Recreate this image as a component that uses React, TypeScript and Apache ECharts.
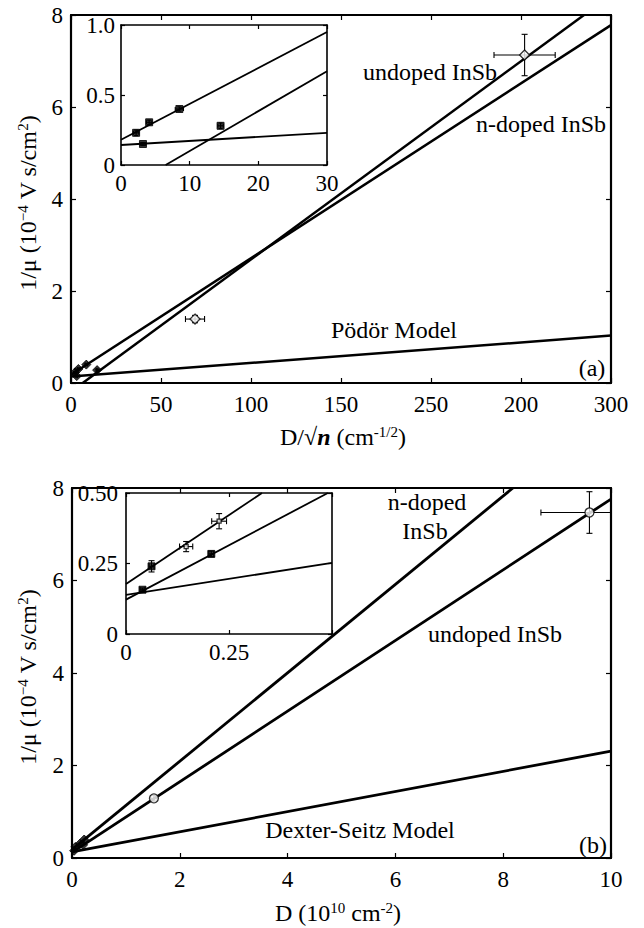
import React, { useEffect, useRef } from "react";
import * as echarts from "echarts";

const FONT = "'Liberation Serif', 'Times New Roman', Times, Tinos, serif";

// ---------- Panel (a) ----------
const aXTickLabels = ["0", "50", "100", "150", "250", "200", "300"];
const aYTickLabels = ["0", "2", "4", "6", "8"];
const aUndopedLine = [[6.5, 0], [285, 8]];
const aNdopedLine = [[0, 0.18], [300, 7.78]];
const aPodorLine = [[0, 0.14], [300, 1.03]];
// [x, y, xErr, yErr]
const aMainPoints = [[252, 7.13, 17, 0.45], [68.9, 1.39, 5.3, 0.08]];
const aSmallPoints = [
  [2.2, 0.23, 0.4, 0.02],
  [4.1, 0.305, 0.4, 0.015],
  [8.5, 0.4, 0.6, 0.015],
  [14.5, 0.28, 0.4, 0.02],
  [3.2, 0.15, 0.4, 0.01],
];
const aInsetXTickLabels = ["0", "10", "20", "30"];
const aInsetYTickLabels = ["0", "0.5", "1.0"];
const aInsetLine1 = [[0, 0.18], [30, 0.95]];
const aInsetLine2 = [[6.5, 0], [30, 0.67]];
const aInsetLine3 = [[0, 0.143], [30, 0.23]];

// ---------- Panel (b) ----------
const bXTickLabels = ["0", "2", "4", "6", "8", "10"];
const bYTickLabels = ["0", "2", "4", "6", "8"];
const bNdopedLine = [[0, 0.18], [8.18, 8]];
const bUndopedLine = [[0, 0.12], [10, 7.76]];
const bDexterLine = [[0, 0.13], [10, 2.31]];
const bMainPoints = [[9.6, 7.47, 0.9, 0.45], [1.52, 1.29, 0.06, 0.06]];
const bSmallPoints = [
  [0.062, 0.24, 0.006, 0.02],
  [0.04, 0.157, 0.006, 0.006],
  [0.146, 0.31, 0.016, 0.018],
  [0.226, 0.4, 0.018, 0.027],
  [0.207, 0.284, 0.006, 0.01],
];
const bInsetXTickLabels = ["0", "0.25", ""];
const bInsetYTickLabels = ["0", "0.25", "0.50"];
const bInsetLine1 = [[0, 0.177], [0.33, 0.5]];
const bInsetLine2 = [[0, 0.122], [0.49, 0.5]];
const bInsetLine3 = [[0, 0.139], [0.5, 0.252]];

function errRender(cap: number, lw: number) {
  return (params: any, api: any) => {
    const x = api.value(0), y = api.value(1), ex = api.value(2), ey = api.value(3);
    const c = api.coord([x, y]);
    const l = api.coord([x - ex, y]);
    const r = api.coord([x + ex, y]);
    const t = api.coord([x, y + ey]);
    const b = api.coord([x, y - ey]);
    const st = { stroke: "#000", lineWidth: lw };
    const ln = (x1: number, y1: number, x2: number, y2: number) => ({
      type: "line",
      shape: { x1, y1, x2, y2 },
      style: st,
    });
    return {
      type: "group",
      children: [
        ln(l[0], c[1], r[0], c[1]),
        ln(l[0], c[1] - cap, l[0], c[1] + cap),
        ln(r[0], c[1] - cap, r[0], c[1] + cap),
        ln(c[0], t[1], c[0], b[1]),
        ln(c[0] - cap, t[1], c[0] + cap, t[1]),
        ln(c[0] - cap, b[1], c[0] + cap, b[1]),
      ],
    };
  };
}

function fromLabels(labels: string[], step: number) {
  return (v: number) => {
    const i = Math.round(v / step);
    return labels[i] ?? "";
  };
}

const labelStyle = { fontFamily: FONT, fontSize: 23, color: "#000" };

function mkX(grid: number, min: number, max: number, interval: number, labels: string[] | null, pos: string, lw: number, tl: number, margin = 10) {
  return {
    type: "value",
    gridIndex: grid,
    min,
    max,
    interval,
    position: pos,
    axisLine: { show: true, onZero: false, lineStyle: { color: "#000", width: lw } },
    axisTick: { show: true, inside: true, length: tl, lineStyle: { color: "#000", width: 1.2 } },
    axisLabel: labels
      ? { show: true, margin, formatter: fromLabels(labels, interval), ...labelStyle }
      : { show: false },
    splitLine: { show: false },
  };
}

function mkY(grid: number, min: number, max: number, interval: number, labels: string[] | null, pos: string, lw: number, tl: number, margin = 8) {
  return {
    type: "value",
    gridIndex: grid,
    min,
    max,
    interval,
    position: pos,
    axisLine: { show: true, onZero: false, lineStyle: { color: "#000", width: lw } },
    axisTick: { show: true, inside: true, length: tl, lineStyle: { color: "#000", width: 1.2 } },
    axisLabel: labels
      ? { show: true, margin, formatter: fromLabels(labels, interval), ...labelStyle }
      : { show: false },
    splitLine: { show: false },
  };
}

function lineSeries(data: number[][], xi: number, yi: number, w: number) {
  return {
    type: "line",
    xAxisIndex: xi,
    yAxisIndex: yi,
    data,
    showSymbol: false,
    symbol: "none",
    clip: true,
    lineStyle: { color: "#000", width: w },
    z: 3,
  };
}

function errSeries(data: number[][], xi: number, yi: number, cap: number, lw: number) {
  return {
    type: "custom",
    xAxisIndex: xi,
    yAxisIndex: yi,
    data,
    clip: true,
    encode: { x: 0, y: 1 },
    renderItem: errRender(cap, lw),
    z: 4,
  };
}

function markerSeries(data: number[][], xi: number, yi: number, symbol: string, size: number, filled: boolean) {
  return {
    type: "scatter",
    xAxisIndex: xi,
    yAxisIndex: yi,
    data: data.map((d) => [d[0], d[1]]),
    symbol,
    symbolSize: size,
    clip: true,
    itemStyle: filled
      ? { color: "#000", borderColor: "#000", borderWidth: 1 }
      : { color: "#fff", borderColor: "#000", borderWidth: 1.3 },
    z: 5,
  };
}

const txtStyle = (text: string, size = 24) => ({
  text,
  font: `${size}px ${FONT}`,
  fontFamily: FONT,
  fontSize: size,
  fill: "#000",
  align: "center",
  verticalAlign: "middle",
  textAlign: "center",
  textVerticalAlign: "middle",
});

const richTitle = {
  n: { fontFamily: FONT, fontSize: 24, lineHeight: 26, fill: "#000", color: "#000" },
  it: { fontFamily: FONT, fontSize: 24, lineHeight: 26, fontStyle: "italic", fontWeight: "bold", fill: "#000", color: "#000" },
  sup: { fontFamily: FONT, fontSize: 15, lineHeight: 10, verticalAlign: "top", fill: "#000", color: "#000" },
};

function titleText(text: string, x: number, y: number, rot = 0) {
  return {
    type: "text",
    x,
    y,
    rotation: rot,
    style: {
      text,
      rich: richTitle,
      fill: "#000",
      align: "center",
      verticalAlign: "middle",
      textAlign: "center",
      textVerticalAlign: "middle",
    },
    z: 10,
  };
}

export default function App() {
  const ref = useRef<HTMLDivElement>(null);
  useEffect(() => {
    if (!ref.current) return;
    const chart = echarts.init(ref.current, undefined, { renderer: "svg" });
    const option: any = {
      animation: false,
      backgroundColor: "#fff",
      textStyle: { fontFamily: FONT },
      grid: [
        { left: 71, top: 15, width: 540, height: 368 },
        { left: 121, top: 25, width: 206, height: 140, show: true, backgroundColor: "#fff", borderWidth: 0 },
        { left: 72, top: 488, width: 539, height: 370 },
        { left: 126, top: 493, width: 206, height: 141, show: true, backgroundColor: "#fff", borderWidth: 0 },
      ],
      xAxis: [
        mkX(0, 0, 300, 50, aXTickLabels, "bottom", 2.2, 5),
        mkX(0, 0, 300, 50, null, "top", 2.2, 5),
        mkX(1, 0, 30, 10, aInsetXTickLabels, "bottom", 1.6, 4, 7),
        mkX(1, 0, 30, 10, null, "top", 1.6, 4),
        mkX(2, 0, 10, 2, bXTickLabels, "bottom", 2.2, 5),
        mkX(2, 0, 10, 2, null, "top", 2.2, 5),
        mkX(3, 0, 0.5, 0.25, bInsetXTickLabels, "bottom", 1.6, 4, 7),
        mkX(3, 0, 0.5, 0.25, null, "top", 1.6, 4),
      ],
      yAxis: [
        mkY(0, 0, 8, 2, aYTickLabels, "left", 2.2, 5),
        mkY(0, 0, 8, 2, null, "right", 2.2, 5),
        mkY(1, 0, 1, 0.5, aInsetYTickLabels, "left", 1.6, 4, 6),
        mkY(1, 0, 1, 0.5, null, "right", 1.6, 4),
        mkY(2, 0, 8, 2, bYTickLabels, "left", 2.2, 5),
        mkY(2, 0, 8, 2, null, "right", 2.2, 5),
        mkY(3, 0, 0.5, 0.25, bInsetYTickLabels, "left", 1.6, 4, 8),
        mkY(3, 0, 0.5, 0.25, null, "right", 1.6, 4),
      ],
      series: [
        // panel (a) main
        lineSeries(aUndopedLine, 0, 0, 2.5),
        lineSeries(aNdopedLine, 0, 0, 2.5),
        lineSeries(aPodorLine, 0, 0, 2.5),
        errSeries(aMainPoints, 0, 0, 3, 1.1),
        errSeries(aSmallPoints, 0, 0, 2, 1.1),
        markerSeries(aMainPoints, 0, 0, "diamond", 10, false),
        markerSeries(aSmallPoints, 0, 0, "diamond", 9, true),
        // panel (a) inset
        lineSeries(aInsetLine1, 2, 2, 1.8),
        lineSeries(aInsetLine2, 2, 2, 1.8),
        lineSeries(aInsetLine3, 2, 2, 1.8),
        errSeries(aSmallPoints, 2, 2, 2, 1.1),
        markerSeries(aSmallPoints, 2, 2, "rect", 7, true),
        // panel (b) main
        lineSeries(bNdopedLine, 4, 4, 2.8),
        lineSeries(bUndopedLine, 4, 4, 2.8),
        lineSeries(bDexterLine, 4, 4, 2.8),
        errSeries(bMainPoints, 4, 4, 3, 1.1),
        markerSeries(bMainPoints, 4, 4, "circle", 9, false),
        markerSeries(bSmallPoints, 4, 4, "diamond", 9, true),
        // panel (b) inset
        lineSeries(bInsetLine1, 6, 6, 1.8),
        lineSeries(bInsetLine2, 6, 6, 1.8),
        lineSeries(bInsetLine3, 6, 6, 1.8),
        errSeries(bSmallPoints, 6, 6, 3, 1.1),
        markerSeries([bSmallPoints[0], bSmallPoints[1], bSmallPoints[4]], 6, 6, "rect", 7, true),
        markerSeries([bSmallPoints[2], bSmallPoints[3]], 6, 6, "rect", 4, false),
      ],
      graphic: [
        { type: "text", x: 430, y: 72, style: txtStyle("undoped InSb"), z: 10 },
        { type: "text", x: 541, y: 124, style: txtStyle("n-doped InSb"), z: 10 },
        { type: "text", x: 394, y: 330, style: txtStyle("Pödör Model"), z: 10 },
        { type: "text", x: 592, y: 368, style: txtStyle("(a)"), z: 10 },
        { type: "text", x: 427, y: 502, style: txtStyle("n-doped"), z: 10 },
        { type: "text", x: 425, y: 531, style: txtStyle("InSb"), z: 10 },
        { type: "text", x: 495, y: 634, style: txtStyle("undoped InSb"), z: 10 },
        { type: "text", x: 360, y: 830, style: txtStyle("Dexter-Seitz Model"), z: 10 },
        { type: "text", x: 593, y: 845, style: txtStyle("(b)"), z: 10 },
        titleText("{n|1/μ (10}{sup|−4}{n| V s/cm}{sup|2}{n|)}", 28, 203, Math.PI / 2),
        titleText("{n|1/μ (10}{sup|−4}{n| V s/cm}{sup|2}{n|)}", 28, 677, Math.PI / 2),
        titleText("{n|D/√}{it|n}{n| (cm}{sup|-1/2}{n|)}", 343, 437),
        titleText("{n|D (10}{sup|10}{n| cm}{sup|-2}{n|)}", 338, 913),
      ],
    };
    chart.setOption(option);
    return () => chart.dispose();
  }, []);
  return (
    <div
      ref={ref}
      style={{ position: "fixed", left: 0, top: 0, width: 644, height: 928, background: "#fff" }}
    />
  );
}
